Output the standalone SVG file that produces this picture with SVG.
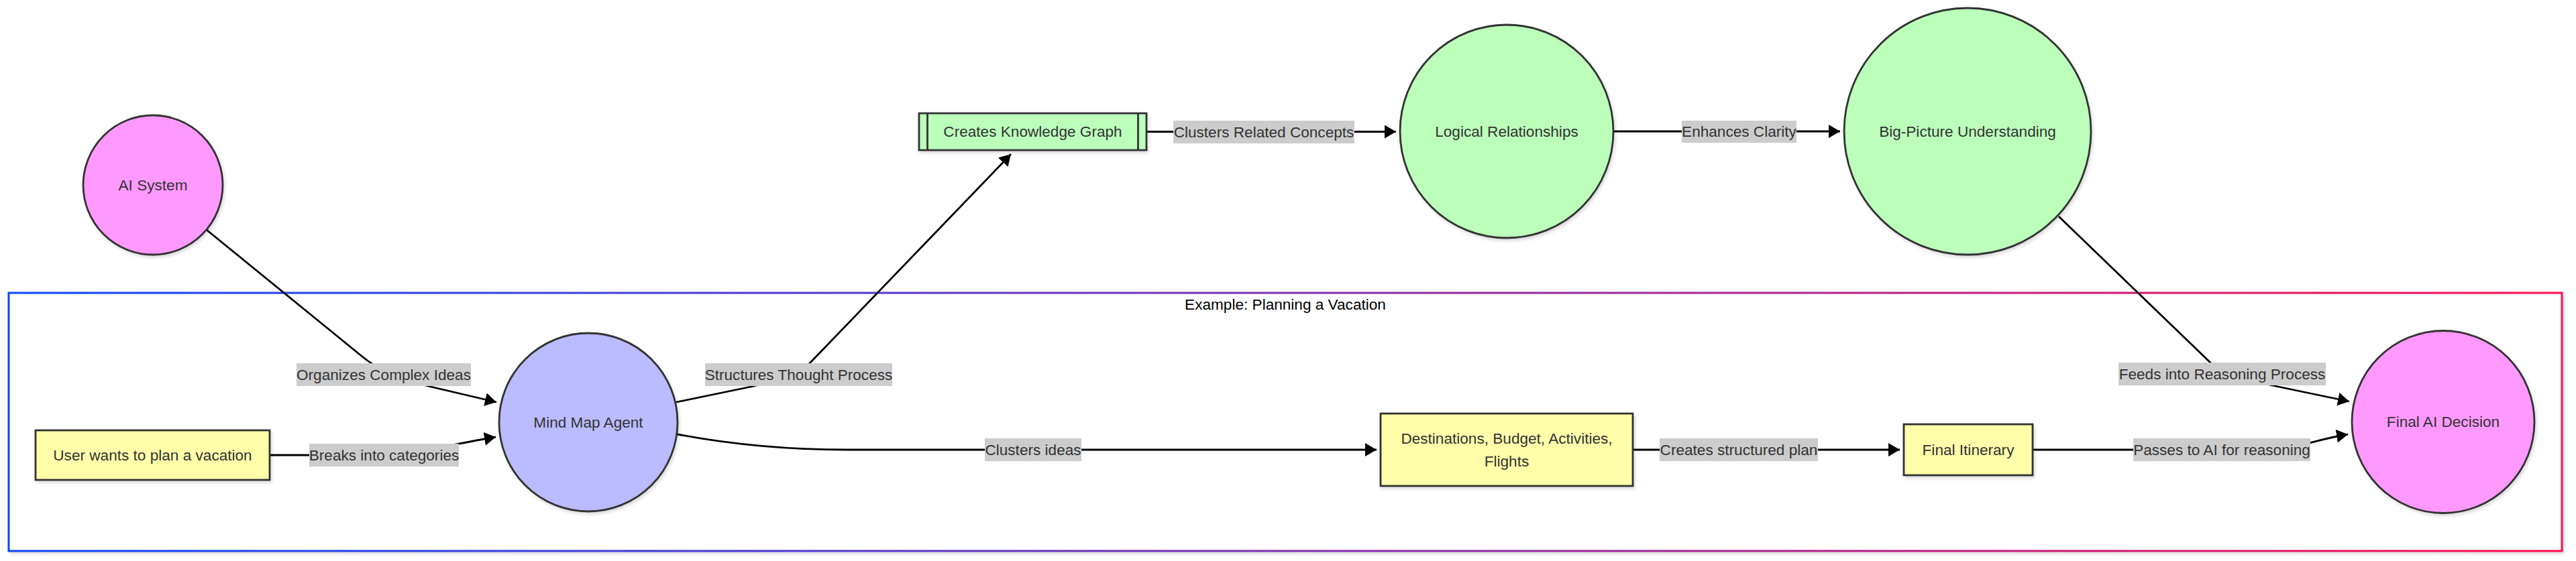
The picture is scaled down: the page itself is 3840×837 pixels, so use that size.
<svg xmlns="http://www.w3.org/2000/svg" width="3840" height="837" viewBox="0 0 3840 837">
<style>
text{font-family:"Liberation Sans",Arial,sans-serif;font-size:22.6px;fill:#333;text-anchor:middle;dominant-baseline:central}
.n{stroke:#333;stroke-width:2.8;filter:url(#sh)}
.pink{fill:#ff99ff}.lav{fill:#bbbbff}.grn{fill:#bbffbb}.yel{fill:#ffffaa}
.e{fill:none;stroke:#000;stroke-width:2.8;marker-end:url(#arr)}
.lb{fill:#cccccc}
.title{fill:#000}
</style>
<defs>
<linearGradient id="cg" gradientUnits="userSpaceOnUse" x1="13" y1="0" x2="3819" y2="0">
<stop offset="0" stop-color="#0a44ff"/>
<stop offset="0.5" stop-color="#7a30b0"/>
<stop offset="1" stop-color="#ff0a4c"/>
</linearGradient>
<filter id="sh" x="-10%" y="-10%" width="130%" height="130%">
<feDropShadow dx="2" dy="3" stdDeviation="2.5" flood-color="#000" flood-opacity="0.15"/>
</filter>
<marker id="arr" viewBox="0 0 17 20" refX="17" refY="10" markerWidth="17" markerHeight="20" markerUnits="userSpaceOnUse" orient="auto">
<path d="M0,0 L17,10 L0,20 z" fill="#000"/>
</marker>
</defs>
<rect width="3840" height="837" fill="#fff"/>
<g id="cluster">
<rect x="13" y="437" width="3806" height="385" fill="#fff" stroke="url(#cg)" stroke-width="3" filter="url(#sh)"/>
<text class="title" x="1916" y="454">Example: Planning a Vacation</text>
</g>
<g id="connectors">
<path class="e" d="M308,343 L540,532 Q572,559 638,576 L740,600"/>
<path class="e" d="M402,679 L560,679 C620,679 660,665 739,652"/>
<path class="e" d="M1008,600 L1124,576 Q1190,560 1207,542 L1507,230"/>
<path class="e" d="M1709,196.5 L2081,196.5"/>
<path class="e" d="M2405,196 L2743,196"/>
<path class="e" d="M3069,323 L3295,541 Q3312,558 3387,575 L3502,599"/>
<path class="e" d="M1010,648 C1100,665 1180,671 1263,671 L2052,671"/>
<path class="e" d="M2434,671 L2832,671"/>
<path class="e" d="M3030,671 L3380,671 C3420,671 3450,656 3500,648"/>
</g>
<g id="edge-labels">
<rect class="lb" x="442" y="542" width="260" height="34"/><text x="572" y="559">Organizes Complex Ideas</text>
<rect class="lb" x="461" y="662" width="223" height="34"/><text x="572.5" y="679">Breaks into categories</text>
<rect class="lb" x="1051" y="542" width="279" height="34"/><text x="1190.5" y="559">Structures Thought Process</text>
<rect class="lb" x="1749" y="180" width="270" height="34"/><text x="1884" y="197">Clusters Related Concepts</text>
<rect class="lb" x="2507" y="180" width="171" height="33"/><text x="2592.5" y="196.5">Enhances Clarity</text>
<rect class="lb" x="3158" y="541" width="309" height="34"/><text x="3312.5" y="558">Feeds into Reasoning Process</text>
<rect class="lb" x="1468" y="654" width="144" height="34"/><text x="1540" y="671">Clusters ideas</text>
<rect class="lb" x="2474" y="654" width="236" height="34"/><text x="2592" y="671">Creates structured plan</text>
<rect class="lb" x="3180" y="654" width="264" height="34"/><text x="3312" y="671">Passes to AI for reasoning</text>
</g>
<g id="ai-system"><circle class="n pink" cx="228" cy="276" r="104"/><text x="228" y="276">AI System</text></g>
<g id="mind-map-agent"><circle class="n lav" cx="877" cy="630" r="133"/><text x="877" y="630">Mind Map Agent</text></g>
<g id="user"><rect class="n yel" x="53" y="642" width="349" height="74"/><text x="227.5" y="679">User wants to plan a vacation</text></g>
<g id="knowledge-graph"><rect class="n grn" x="1370" y="169" width="339" height="55"/><path d="M1382.5,169 V224 M1696.5,169 V224" stroke="#333" stroke-width="2.8"/><text x="1539.5" y="196.5">Creates Knowledge Graph</text></g>
<g id="logical-relationships"><circle class="n grn" cx="2246" cy="196" r="159"/><text x="2246" y="196">Logical Relationships</text></g>
<g id="big-picture"><circle class="n grn" cx="2933" cy="196" r="184"/><text x="2933" y="196">Big-Picture Understanding</text></g>
<g id="destinations"><rect class="n yel" x="2058" y="617" width="376" height="108"/><text x="2246" y="654">Destinations, Budget, Activities,</text><text x="2246" y="688">Flights</text></g>
<g id="final-itinerary"><rect class="n yel" x="2838" y="633" width="192" height="76"/><text x="2934" y="671">Final Itinerary</text></g>
<g id="final-ai-decision"><circle class="n pink" cx="3642" cy="629.5" r="136"/><text x="3642" y="629.5">Final AI Decision</text></g>
</svg>
